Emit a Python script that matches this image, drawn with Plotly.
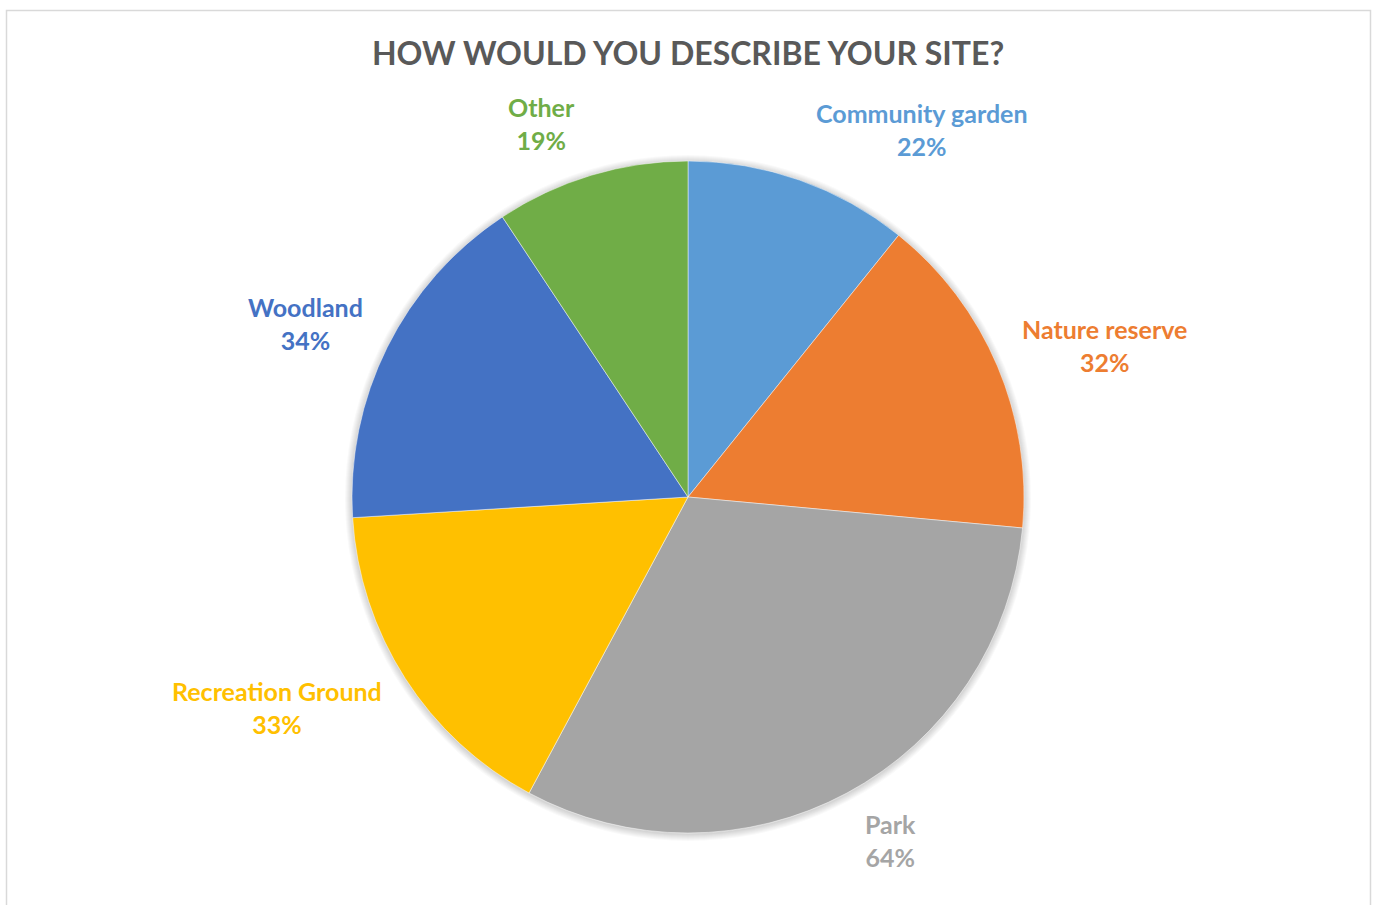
import math
import plotly.graph_objects as go

categories = ["Community garden", "Nature reserve", "Park", "Recreation Ground", "Woodland", "Other"]
values = [22, 32, 64, 33, 34, 19]
colors = ["#5B9BD5", "#ED7D31", "#A5A5A5", "#FFC000", "#4472C4", "#70AD47"]

W, H = 1373, 905
CX, CY, R = 688, 497, 336  # pixels within figure


def px2x(px):
    return px / W


def py2y(py):
    return 1 - py / H


fig = go.Figure(go.Pie(
    labels=categories, values=values, sort=False, direction="clockwise", rotation=0,
    marker=dict(colors=colors, line=dict(color="rgba(255,255,255,0.6)", width=0.8)),
    textinfo="none", hoverinfo="label+value", showlegend=False,
    domain=dict(x=[px2x(CX - R), px2x(CX + R)], y=[py2y(CY + R), py2y(CY - R)]),
))

annotations = []
total = sum(values)
cum = 0
for cat, val, col in zip(categories, values, colors):
    mid = (cum + val / 2) / total * 2 * math.pi
    cum += val
    s, c = math.sin(mid), math.cos(mid)
    sign = 1 if s > 0 else -1
    px = CX + R * 1.04 * s + sign * 10
    py = CY - R * 1.16 * c
    annotations.append(dict(
        x=px2x(px), y=py2y(py), xref="paper", yref="paper",
        xanchor="left" if s > 0 else "right", yanchor="middle",
        align="center", showarrow=False,
        text=f"<b>{cat}</b><br><b>{val}%</b>",
        font=dict(family="Lato", size=25, color=col),
    ))

# soft shadow around the pie
shapes = []
for k in range(1, 8):
    rr = R + k
    shapes.append(dict(type="circle", xref="paper", yref="paper",
                       x0=px2x(CX - rr), x1=px2x(CX + rr),
                       y0=py2y(CY + 1 + rr), y1=py2y(CY + 1 - rr),
                       line=dict(width=0), fillcolor="rgba(0,0,0,0.025)", layer="below"))
shapes.append(dict(type="rect", xref="paper", yref="paper",
                   x0=px2x(6.5), x1=px2x(1370.5), y0=-0.05, y1=py2y(10.5),
                   line=dict(color="#D9D9D9", width=1.5), fillcolor="rgba(0,0,0,0)", layer="below"))

fig.update_layout(
    width=W, height=H,
    margin=dict(l=0, r=0, t=0, b=0),
    paper_bgcolor="white", plot_bgcolor="white",
    title=dict(text="<b>HOW WOULD YOU DESCRIBE YOUR SITE?</b>", x=px2x(688), y=py2y(54),
               xanchor="center", yanchor="middle",
               font=dict(family="Lato", size=32, color="#595959")),
    annotations=annotations,
    shapes=shapes,
)

fig.write_html("out.html", config={"displayModeBar": False},
               post_script="document.body.style.margin='0';document.body.style.overflow='hidden';")
